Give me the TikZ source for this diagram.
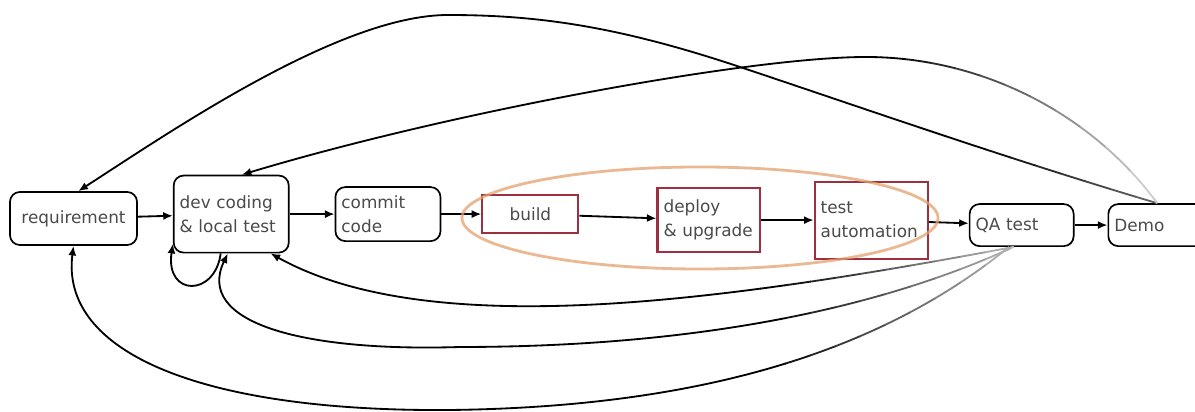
\documentclass[tikz,border=0pt]{standalone}
\usepackage{fontspec}
\setmainfont{DejaVu Sans}
\usetikzlibrary{arrows.meta, positioning}
\definecolor{inkText}{HTML}{4A4A4A}
\definecolor{stageRed}{HTML}{9E2F3F}
\definecolor{loopOrange}{HTML}{E3A06E}

% #1 = x where the curve starts to fade, #2 = step of the fade, #3 = path
\newcommand{\fadecurve}[3]{%
  \begin{scope}
    \clip (0,0) rectangle (#1+0.5,412);
    \draw[arr] #3;
  \end{scope}
  \foreach \k in {0,...,10}{
    \pgfmathsetmacro{\greylev}{100-#2*\k}
    \begin{scope}
      \clip (#1+\k*25,0) rectangle (#1+\k*25+25.5,412);
      \draw[arr, draw=black!\greylev] #3;
    \end{scope}
  }
  \pgfmathsetmacro{\greylast}{100-#2*10}
  \begin{scope}
    \clip (#1+275,0) rectangle (1195,412);
    \draw[arr, draw=black!\greylast] #3;
  \end{scope}
}

\begin{document}
\begin{tikzpicture}[
    x=0.025cm, y=0.025cm,
    stage/.style={draw, line width=1.2pt, rounded corners=7pt, text=inkText, font=\fontsize{12}{17}\selectfont, align=left, inner xsep=0.15cm, inner ysep=2pt},
    redstage/.style={stage, draw=stageRed, rounded corners=0pt, line width=1.5pt},
    arr/.style={-{Latex[length=2.4mm, width=2mm]}, line width=1.3pt}
  ]
  \useasboundingbox (0,0) rectangle (1195,412);

  % pipeline
  \node[stage, text width=2.875cm, minimum height=1.325cm, align=center] (req) at (73.5,193.5) {requirement};
  \node[stage, text width=2.575cm, minimum height=1.925cm, right=0.875cm of req, yshift=0.11cm] (dev) {dev coding\\\& local test};
  \node[stage, text width=2.325cm, minimum height=1.35cm, right=1.125cm of dev] (commit) {commit\\code};
  \node[redstage, text width=2.1cm, minimum height=0.95cm, align=center, right=1cm of commit] (build) {build};
  \node[redstage, text width=2.25cm, minimum height=1.6cm, right=1.925cm of build, yshift=-0.15cm] (deploy) {deploy\\\& upgrade};
  \node[redstage, text width=2.525cm, minimum height=1.925cm, right=1.325cm of deploy] (test) {test\\automation};
  \node[stage, text width=2.3cm, minimum height=1.05cm, right=1cm of test, yshift=-0.125cm] (qa) {QA test};
  \node[stage, text width=2.15cm, minimum height=1.05cm, right=0.825cm of qa] (demo) {Demo};

  \draw[arr] (req) -- (dev);
  \draw[arr] (dev) -- (commit);
  \draw[arr] (commit) -- (build);
  \draw[arr] (build) -- (deploy);
  \draw[arr] (deploy) -- (test);
  \draw[arr] (test) -- (qa);
  \draw[arr] (qa) -- (demo);

  % CI loop
  \draw[loopOrange, line width=2pt, opacity=0.75] (700,194) ellipse [x radius=5.95cm, y radius=1.275cm];

  % feedback from demo
  \fadecurve{960}{5.5}{(demo.north) .. controls (1005,254) and (860,305) .. (740,345)
    .. controls (620,385) and (540,397) .. (448,397) .. controls (340,397) and (170,280) .. (req.80)}
  \fadecurve{880}{8}{(demo.north) .. controls (1090,300) and (980,355) .. (866,355)
    .. controls (750,355) and (450,300) .. (dev.75)}

  % feedback from QA
  \fadecurve{760}{7.5}{(qa.-110) .. controls (720,110) and (430,70) .. (dev.-45)}
  \fadecurve{760}{7.5}{(qa.-110) .. controls (850,90) and (650,65) .. (460,65)
    .. controls (300,60) and (195,90) .. (dev.-95)}
  \fadecurve{760}{7.5}{(qa.-120) .. controls (880,60) and (700,5) .. (450,2)
    .. controls (200,0) and (60,60) .. (req.south)}

  % local loop
  \draw[arr] (dev.-105) .. controls (215,115) and (165,115) .. (dev.-153);
\end{tikzpicture}
\end{document}
